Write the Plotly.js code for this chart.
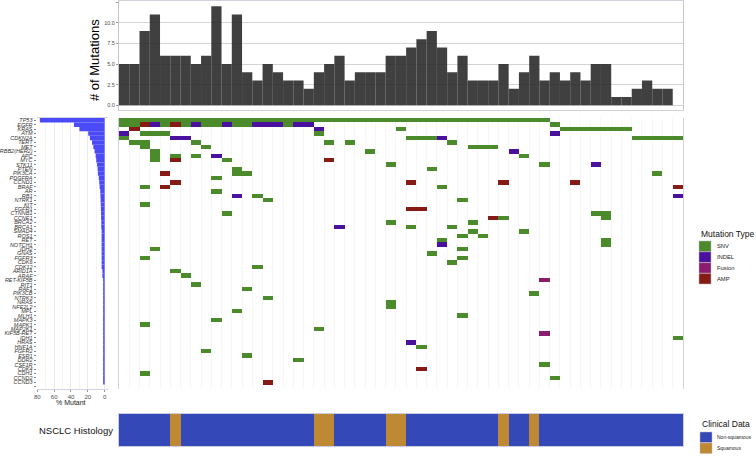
<!DOCTYPE html>
<html><head><meta charset="utf-8">
<script src="https://cdn.plot.ly/plotly-3.0.1.min.js"></script>
<style>html,body{margin:0;padding:0;background:#fff}#chart{width:756px;height:456px}</style>
</head><body><div id="chart"></div>
<script>
// ---------------- DATA ----------------
const genes = ["TP53","EGFR","KRAS","ATM","CDKN2A","TERT","MET","ERBB2(HER2)","APC","MYC","STK11","PTEN","PIK3CA","PDGFRA","CCND1","BRAF","AR","RB1","NTRK1","KIT","FGFR1","CTNNB1","CCNE1","BRCA2","BRCA1","SMAD4","ROS1","RET","NOTCH1","IDH2","GNAS","FGFR3","CDK6","CDK12","ARID1A","ARAF","RET-KIF5B","RIT1","RAF1","PIK3CB","NTRK3","NRAS","NFE2L2","MPL","MLH1","MAPK3","MAPK1","MAP2K1","KIF5B-RET","IDH1","HRAS","HNF1A","FGFR2","ESR1","DDR2","CSF1R","CDK4","CDH1","CCND2","CCND3",""];

const pctMutant = [77,36.5,30,19.5,17.5,15,13.5,12,10.7,10,9,8.3,8,7,6.4,6,5.2,5,4.8,4.6,4.5,4.3,4.2,4,4,3.6,3.6,3.6,3.6,3.6,3.6,3.6,3.6,3.6,2.7,2.7,
  1.8,1.8,1.8,1.8,1.8,1.8,1.8,1.8,1.8,1.8,1.8,1.8,1.8,1.8,1.8,1.8,1.8,1.8,1.8,1.8,1.8,1.8,1.8,1.8,0];

const mutationBurden = [5,5,9,11,6,6,6,5,6,12,5,11,4,3,5,4,3,3,2,4,5,6,3,4,4,4,6,6,7,8,9,7,4,6,3,3,3,5,2,4,6,3,4,3,4,3,5,5,1,1,2,3,2,2,0];

// N = Non-squamous, Q = Squamous
const histology = "NNNNNQNNNNNNNNNNNNNQQNNNNNQQNNNNNNNNNQNNQNNNNNNNNNNNNNN";

// per gene: "col+Type" or "a-b+Type"; S=SNV I=INDEL F=Fusion A=AMP
const geneMutations = [
 "0-41S",
 "0-1S 2A 3I 4S 5A 6S 7I 8-9S 10I 11-12S 13-15I 16S 17-18I 42S",
 "1A 19I 27S 43-49S",
 "0I 2-4S 19S 42I",
 "0S 5-6I 28-30S 31I 50-54S",
 "1-2S 7S 20S 22S 32S",
 "2S 8S 34-36S",
 "3S 24S 38I",
 "3S 5S 7S 9I 39S",
 "3S 5A 10S 20A",
 "26S 41S 46I",
 "11S 30S",
 "4A 11-12S 52S",
 "9S",
 "5A 28A 37A 44A",
 "2S 4A 31S 54A",
 "9S",
 "11I 13S 54I",
 "14S 33S",
 "2S",
 "28-29A",
 "10S 46-47S",
 "36A 37S 47S",
 "26S 34S",
 "21I 28S 32S",
 "34S 39S",
 "33S 35S",
 "31S 47S",
 "31I 47S",
 "3S 33S",
 "30S",
 "2S 33S",
 "32S",
 "13S",
 "5S",
 "6S",
 "41F",
 "7S",
 "12S",
 "40S",
 "14S",
 "26S",
 "26S",
 "11S",
 "33S",
 "9S",
 "2S",
 "19S",
 "41F",
 "54S",
 "28I",
 "29S",
 "8S",
 "12S",
 "17S",
 "41S",
 "29A",
 "2S",
 "42S",
 "14A",
 ""
];

const typeCodes = {S:1, I:2, F:3, A:4};
const typeNames = ["SNV","INDEL","Fusion","AMP"];
const typeColors = ["#4b8b2b","#4a109e","#8c1c70","#861b16"];
const histNames = ["Non-squamous","Squamous"];
const histColors = {N:"#3448b8", Q:"#bf8832"};

// ---------------- BUILD ----------------
const nS = mutationBurden.length, nG = genes.length;
const sampleIdx = mutationBurden.map((_, i) => i);
const geneIdx = genes.map((_, i) => i);
const z = genes.map(() => new Array(nS).fill(null));
geneMutations.forEach((spec, g) => {
  spec.split(/\s+/).filter(Boolean).forEach(tok => {
    const m = tok.match(/^(\d+)(?:-(\d+))?([SIFA])$/);
    if (!m) return;
    const a = +m[1], b = m[2] ? +m[2] : a;
    for (let c = a; c <= b; c++) z[g][c] = typeCodes[m[3]];
  });
});
const histZ = [histology.split('').map(h => h === 'Q' ? 1 : 0)];

const W = 756, H = 456;
const px = v => v / W, py = v => 1 - v / H;
const font = "Liberation Sans, Arial, Helvetica, sans-serif";
const hx = [px(119), px(683)];

const traces = [
  {type:'bar', x: sampleIdx, y: mutationBurden, xaxis:'x', yaxis:'y', width:1,
   marker:{color:'rgba(38,38,38,0.88)', line:{width:0}}, hoverinfo:'y'},
  {type:'heatmap', x: sampleIdx, y: geneIdx, z: z, xaxis:'x2', yaxis:'y2',
   zmin:0.5, zmax:4.5, showscale:false, xgap:0, ygap:0, hoverongaps:false,
   colorscale:[[0,typeColors[0]],[0.25,typeColors[0]],[0.25,typeColors[1]],[0.5,typeColors[1]],
               [0.5,typeColors[2]],[0.75,typeColors[2]],[0.75,typeColors[3]],[1,typeColors[3]]]},
  {type:'bar', orientation:'h', x: pctMutant, y: geneIdx, xaxis:'x3', yaxis:'y3', width:1,
   marker:{color:'#4a4af6', line:{width:0}}, hoverinfo:'x'},
  {type:'heatmap', x: sampleIdx, y:[0], z: histZ, xaxis:'x4', yaxis:'y4', zmin:0, zmax:1,
   showscale:false, colorscale:[[0,histColors.N],[0.5,histColors.N],[0.5,histColors.Q],[1,histColors.Q]]}
];

const colBounds = []; for (let i = 0; i <= nS; i++) colBounds.push(i - 0.5);

const layout = {
  width: W, height: H, margin:{l:0,r:0,t:0,b:0}, paper_bgcolor:'#fff', plot_bgcolor:'#fff',
  font:{family:font, color:'#000'}, showlegend:false,
  xaxis:{domain:hx, range:[-0.5, nS-0.5], showticklabels:false, ticks:'', showgrid:false, zeroline:false,
         showline:true, mirror:true, linecolor:'#c6c6c6', linewidth:1},
  yaxis:{domain:[py(110.3), py(1.4)], range:[-0.6,12.6], tickvals:[0,2.5,5,7.5,10,12.5],
         ticktext:['0.0','2.5','5.0','7.5','10.0','12.5'], tickfont:{size:5.5, color:'#4d4d4d'},
         ticks:'outside', ticklen:2, tickcolor:'#999', gridcolor:'#d4d4d4', gridwidth:1, zeroline:false,
         showline:true, mirror:true, linecolor:'#c6c6c6', linewidth:1},
  xaxis2:{domain:hx, range:[-0.5, nS-0.5], tickvals:colBounds, showticklabels:false, ticks:'',
          showgrid:true, gridcolor:'#f6f6f6', gridwidth:1, zeroline:false,
          showline:true, mirror:true, linecolor:'#d2d2dc', linewidth:1},
  yaxis2:{domain:[py(389), py(118)], range:[nG-0.5, -0.5], showticklabels:false, ticks:'', showgrid:false,
          zeroline:false, showline:true, mirror:true, linecolor:'#d2d2dc', linewidth:1},
  xaxis3:{domain:[px(36.6), px(107.9)], range:[80.85, -3.85], tickvals:[0,20,40,60,80],
          tickfont:{size:6, color:'#4d4d4d'}, ticks:'outside', ticklen:2, tickcolor:'#999',
          showgrid:true, gridcolor:'#e6e6e6', gridwidth:0.8, zeroline:false,
          minor:{tickvals:[10,30,50,70], showgrid:true, gridcolor:'#efefef', gridwidth:0.6},
          showline:true, mirror:true, linecolor:'#d2d2e6', linewidth:1, anchor:'y3'},
  yaxis3:{domain:[py(389), py(118)], range:[nG-0.5, -0.5], tickvals:geneIdx,
          ticktext: genes.map(g => g ? '<i>'+g+'</i>' : ''), tickfont:{size:5.5, color:'#333'},
          ticks:'outside', ticklen:2, tickcolor:'#888', showgrid:false, zeroline:false,
          showline:false, anchor:'x3'},
  xaxis4:{domain:hx, range:[-0.5, nS-0.5], showticklabels:false, ticks:'', showgrid:false, zeroline:false,
          showline:true, mirror:true, linecolor:'#c9cde8', linewidth:1, anchor:'y4'},
  yaxis4:{domain:[py(446), py(414)], range:[-0.5,0.5], showticklabels:false, ticks:'', showgrid:false,
          zeroline:false, showline:true, mirror:true, linecolor:'#c9cde8', linewidth:1, anchor:'x4'},
  annotations:[
    {text:'# of Mutations', xref:'paper', yref:'paper', x:px(95), y:py(60), textangle:-90,
     showarrow:false, font:{size:13, color:'#000'}, xanchor:'center', yanchor:'middle'},
    {text:'% Mutant', xref:'paper', yref:'paper', x:px(71), y:py(402), showarrow:false,
     font:{size:7, color:'#222'}, xanchor:'center', yanchor:'middle'},
    {text:'NSCLC Histology', xref:'paper', yref:'paper', x:px(115), y:py(430), showarrow:false,
     font:{size:9.5, color:'#111'}, xanchor:'right', yanchor:'middle'},
    {text:'Mutation Type', xref:'paper', yref:'paper', x:px(699), y:py(234), showarrow:false,
     font:{size:8.5, color:'#111'}, xanchor:'left', yanchor:'middle'},
    {text:'Clinical Data', xref:'paper', yref:'paper', x:px(700), y:py(424), showarrow:false,
     font:{size:8.5, color:'#111'}, xanchor:'left', yanchor:'middle'},
    ...typeNames.map((t, i) => ({text:t, xref:'paper', yref:'paper', x:px(715), y:py(246.3 + i*10.8),
      showarrow:false, font:{size:5.8, color:'#222'}, xanchor:'left', yanchor:'middle'})),
    ...histNames.map((t, i) => ({text:t, xref:'paper', yref:'paper', x:px(715),
      y:py(437 + i*11), showarrow:false, font:{size:5, color:'#222'}, xanchor:'left', yanchor:'middle'}))
  ],
  shapes:[
    ...typeColors.map((c, i) => ({type:'rect', xref:'paper', yref:'paper', x0:px(699), x1:px(711),
      y0:py(241 + i*10.8), y1:py(251.6 + i*10.8), fillcolor:c, line:{width:0.5, color:'#bbb'}})),
    ...[histColors.N, histColors.Q].map((c, i) => ({type:'rect', xref:'paper', yref:'paper', x0:px(700), x1:px(712),
      y0:py(432 + i*11), y1:py(442.5 + i*11), fillcolor:c, line:{width:0.5, color:'#bbb'}}))
  ]
};

Plotly.newPlot('chart', traces, layout, {staticPlot:true, displayModeBar:false});
</script></body></html>
